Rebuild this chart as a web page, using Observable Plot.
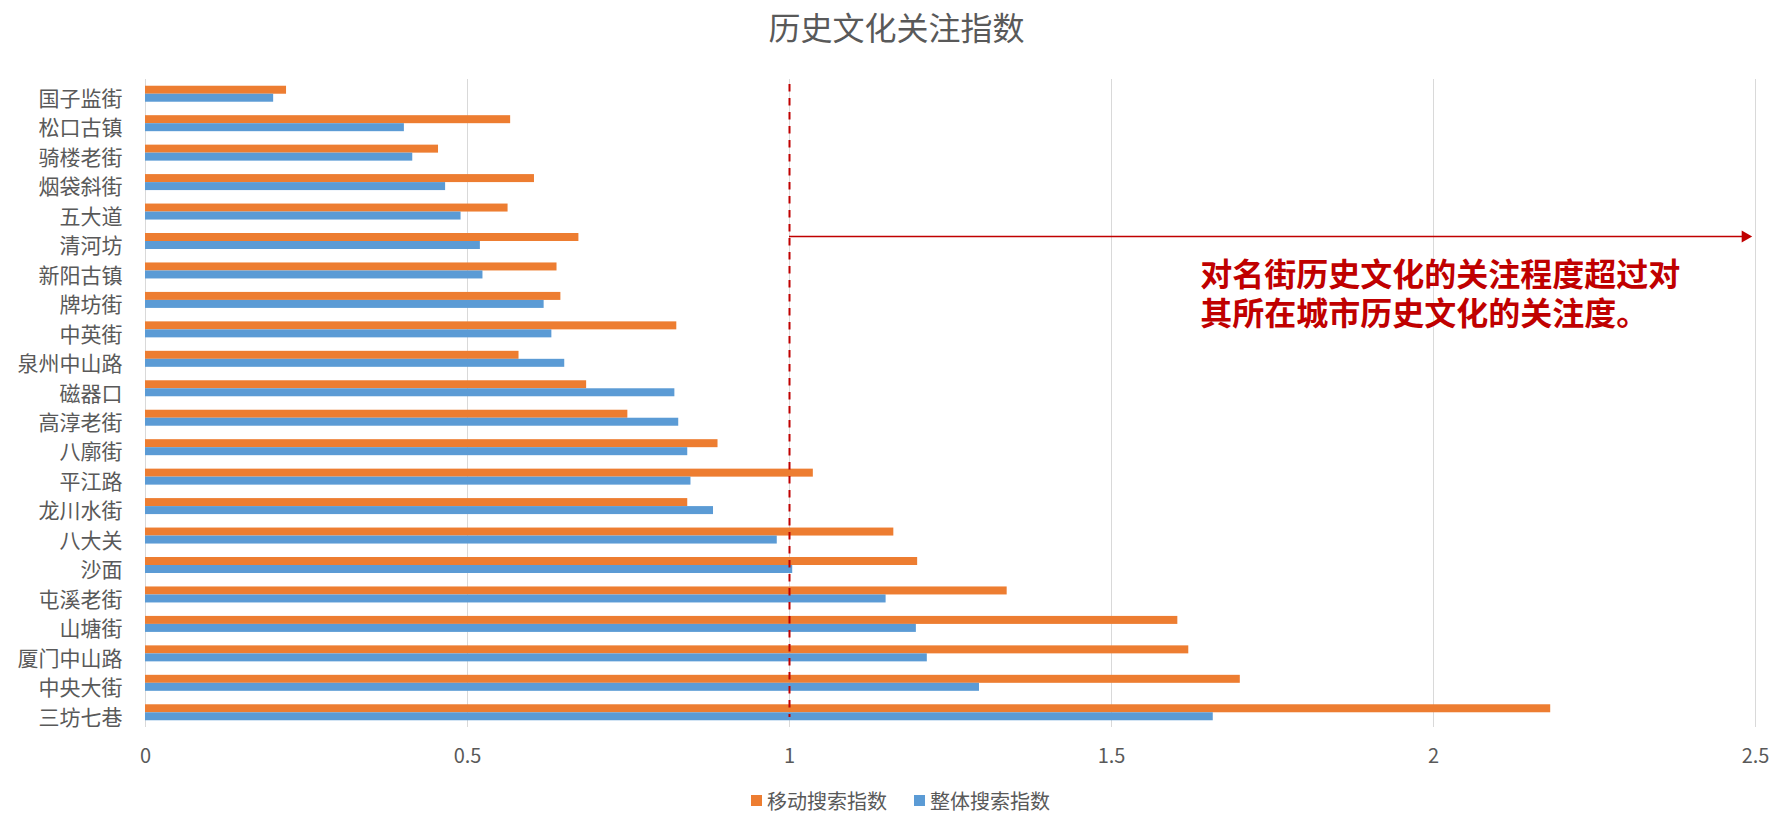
<!DOCTYPE html>
<html>
<head>
<meta charset="utf-8">
<script src="https://cdn.jsdelivr.net/npm/d3@7"></script>
<script src="https://cdn.jsdelivr.net/npm/@observablehq/plot@0.6"></script>
<style>
html, body { margin: 0; padding: 0; background: #fff; overflow: hidden; }
body { font-family: "Noto Sans CJK SC", sans-serif; width: 1781px; height: 823px; position: relative; }
#title { position: absolute; top: 0; left: 0; width: 1781px; height: 52px; line-height: 52px; text-align: center;
  padding-left: 12px; box-sizing: border-box; font-size: 32px; color: #595959; }
#chart { position: absolute; top: 58px; left: 0; }
#legend { position: absolute; top: 780px; left: 751px; height: 40px; display: flex; align-items: center;
  font-size: 20px; color: #595959; }
#legend .item { display: flex; align-items: center; margin-right: 27px; }
#legend .sw { width: 11px; height: 11px; display: inline-block; margin-right: 5px; }
</style>
</head>
<body>
<div id="title"></div>
<div id="chart"></div>
<div id="legend"></div>
<script>
// ---- data ----
const chartTitle = "历史文化关注指数";
const streets = ["国子监街","松口古镇","骑楼老街","烟袋斜街","五大道","清河坊","新阳古镇","牌坊街","中英街","泉州中山路","磁器口","高淳老街","八廓街","平江路","龙川水街","八大关","沙面","屯溪老街","山塘街","厦门中山路","中央大街","三坊七巷"];
const mobileIndex = [0.219,0.567,0.455,0.604,0.563,0.673,0.639,0.645,0.825,0.580,0.685,0.749,0.889,1.037,0.842,1.162,1.199,1.338,1.603,1.620,1.700,2.182];
const overallIndex = [0.199,0.402,0.415,0.466,0.490,0.520,0.524,0.619,0.631,0.651,0.822,0.828,0.842,0.847,0.882,0.981,1.005,1.150,1.197,1.214,1.295,1.658];
const seriesNames = ["移动搜索指数","整体搜索指数"];
const seriesColors = ["#ED7D31","#5B9BD5"];
const xTicks = [0, 0.5, 1, 1.5, 2, 2.5];
const refValue = 1;
const arrowRow = "清河坊";
const arrowStart = 1;
const arrowEnd = 2.485;
const arrowHeadX = 2.484;
const annotationText = "对名街历史文化的关注程度超过对\n其所在城市历史文化的关注度。";
const annotationX = 1.6377;
const annotationRow = "新阳古镇";

// ---- table ----
const rows = streets.map((s, i) => ({street: s, mobile: mobileIndex[i], overall: overallIndex[i]}));

document.getElementById("title").textContent = chartTitle;

const red = "#C00000";
const chart = Plot.plot({
  width: 1781,
  height: 722,
  marginTop: 21,
  marginBottom: 53,
  marginLeft: 145,
  marginRight: 26,
  style: {fontFamily: "'Noto Sans CJK SC', sans-serif", background: "transparent", color: "#595959", overflow: "visible"},
  x: {domain: [0, 2.5], label: null},
  y: {domain: streets, paddingInner: 0.457, paddingOuter: 0.2285, round: false, label: null},
  marks: [
    Plot.ruleX(xTicks, {stroke: "#d9d9d9", strokeWidth: 1}),
    Plot.barX(rows, {x: "mobile", y: "street", fill: seriesColors[0], insetBottom: 8}),
    Plot.barX(rows, {x: "overall", y: "street", fill: seriesColors[1], insetTop: 8}),
    Plot.ruleX([refValue], {stroke: red, strokeWidth: 2, strokeDasharray: "7.5,6.5", insetTop: 5, insetBottom: 10}),
    Plot.ruleY([arrowRow], {x1: arrowStart, x2: arrowEnd, stroke: red, strokeWidth: 1.5, dy: -5}),
    Plot.dot([arrowRow], {x: arrowHeadX, y: d => d, symbol: "triangle", rotate: 90, r: 4.5, fill: red, stroke: "none", dy: -5}),
    Plot.text([annotationText], {x: annotationX, y: () => annotationRow, text: d => d, textAnchor: "start",
      lineAnchor: "middle", lineHeight: 1.21, fontSize: 32, fontWeight: "bold", fill: red, dy: 22}),
    Plot.axisX(xTicks, {tickSize: 0, tickPadding: 21, fontSize: 20, tickFormat: d => String(d), fill: "#595959", label: null}),
    Plot.axisY({tickSize: 0, tickPadding: 23, fontSize: 21, fill: "#595959", dy: 5, label: null})
  ]
});
document.getElementById("chart").appendChild(chart);

const legend = document.getElementById("legend");
seriesNames.forEach((name, i) => {
  const item = document.createElement("div");
  item.className = "item";
  const sw = document.createElement("span");
  sw.className = "sw";
  sw.style.background = seriesColors[i];
  const lab = document.createElement("span");
  lab.textContent = name;
  item.appendChild(sw);
  item.appendChild(lab);
  legend.appendChild(item);
});
</script>
</body>
</html>
